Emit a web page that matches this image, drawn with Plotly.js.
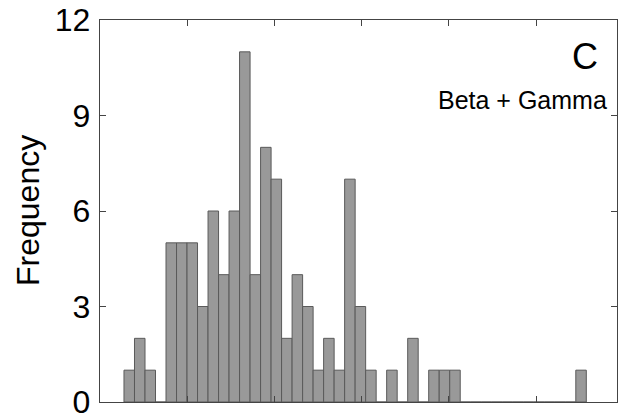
<!DOCTYPE html>
<html>
<head>
<meta charset="utf-8">
<script src="https://cdn.plot.ly/plotly-3.0.1.min.js"></script>
<style>html,body{margin:0;padding:0;background:#fff;}#chart{width:618px;height:417px;}</style>
</head>
<body>
<div id="chart"></div>
<script>
// Histogram counts per bin (left to right)
const counts = [1, 2, 1, 0, 5, 5, 5, 3, 6, 4, 6, 11, 4, 8, 7, 2, 4, 3, 1, 2, 1, 7, 3, 1, 0, 1, 0, 2, 0, 1, 1, 1,
                0, 0, 0, 0, 0, 0, 0, 0, 0, 0, 0, 1];
const binStart = 0.275;   // left edge of first bin (axis units)
const binWidth = 0.1205;  // bin width (axis units)
const binCenters = counts.map((_, i) => binStart + (i + 0.5) * binWidth);
const yTicks = [0, 3, 6, 9, 12];
const xTicks = [0, 1, 2, 3, 4, 5];

const FONT = "Liberation Sans, Arial, Helvetica, sans-serif";

const trace = {
  type: 'bar',
  x: binCenters,
  y: counts,
  width: binWidth,
  marker: {color: '#999999', line: {color: '#5a5a5a', width: 1}},
  hoverinfo: 'x+y'
};

const layout = {
  width: 618, height: 417,
  margin: {l: 100, r: 1, t: 20, b: 15},
  paper_bgcolor: '#ffffff', plot_bgcolor: '#ffffff',
  showlegend: false,
  bargap: 0,
  font: {family: FONT, color: '#000'},
  xaxis: {
    range: [0, 517 / 87.2],
    tickvals: xTicks, showticklabels: false,
    ticks: 'inside', ticklen: 6, tickcolor: '#444', tickwidth: 1,
    showline: true, linecolor: '#444', linewidth: 1.3, mirror: 'ticks',
    showgrid: false, zeroline: false
  },
  yaxis: {
    range: [0, 12],
    tickvals: yTicks,
    ticks: 'inside', ticklen: 6, tickcolor: '#444', tickwidth: 1,
    tickfont: {size: 32, family: FONT, color: '#000'},
    ticklabelstandoff: 2,
    ticklabeloverflow: 'allow',
    showline: true, linecolor: '#444', linewidth: 1.3, mirror: 'ticks',
    showgrid: false, zeroline: false
  },
  annotations: [
    {text: 'Frequency', xref: 'paper', yref: 'paper', x: (28 - 100) / 517, y: 0.5,
     xanchor: 'center', yanchor: 'middle', textangle: -90, showarrow: false,
     font: {size: 32, family: FONT, color: '#000'}},
    {text: 'C', xref: 'paper', yref: 'paper', x: (600 - 100) / 517, y: (402 - 57) / 382,
     xanchor: 'right', yanchor: 'middle', showarrow: false,
     font: {size: 36, family: FONT, color: '#000'}},
    {text: 'Beta + Gamma', xref: 'paper', yref: 'paper', x: (609 - 100) / 517, y: (402 - 100) / 382,
     xanchor: 'right', yanchor: 'middle', showarrow: false,
     font: {size: 25, family: FONT, color: '#000'}}
  ]
};

Plotly.newPlot('chart', [trace], layout, {displayModeBar: false, staticPlot: true});
</script>
</body>
</html>
